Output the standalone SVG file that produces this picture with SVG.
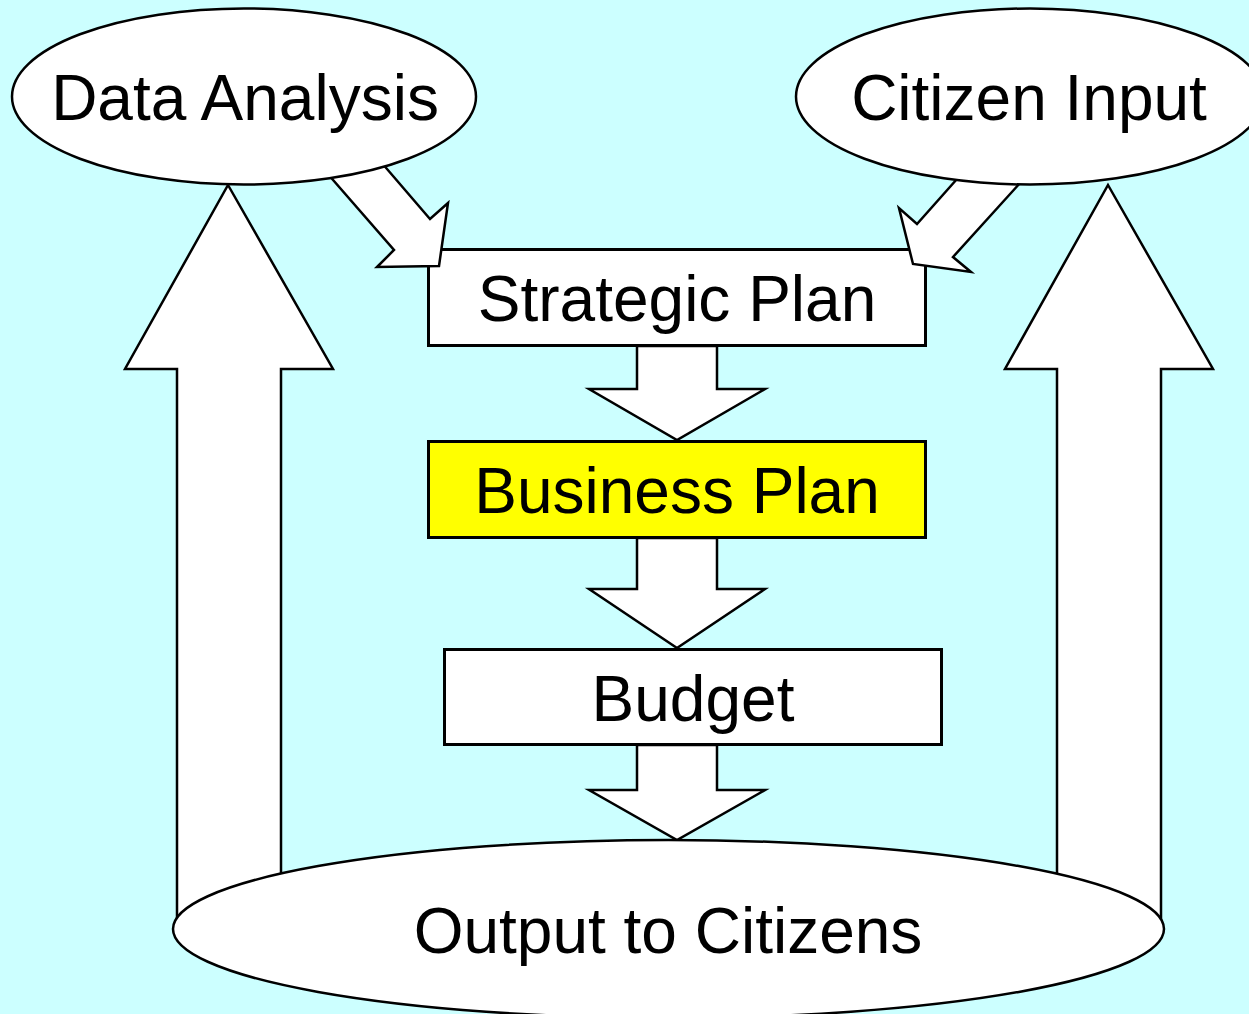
<svg xmlns="http://www.w3.org/2000/svg" width="1249" height="1014" viewBox="0 0 1249 1014">
<style>
.bg{fill:#CCFFFF}
.shape{fill:#FFFFFF;stroke:#000000;stroke-width:2.5;stroke-linejoin:miter}
.box{fill:#FFFFFF;stroke:#000000;stroke-width:3}
.yellow{fill:#FFFF00}
.arrow{fill:#FFFFFF;stroke:#000000;stroke-width:2.5;stroke-linejoin:miter}
.lbl{font-family:"Liberation Sans",Arial,sans-serif;font-size:64px;fill:#000000;text-anchor:middle}
</style>
<rect class="bg" x="0" y="0" width="1249" height="1014"/>
<g id="connectors-back">
<polygon id="arrow-output-to-data" class="arrow" points="228,185 333,369 281,369 281,929 177,929 177,369 125,369"/>
<polygon id="arrow-output-to-citizen" class="arrow" points="1108,185 1213,369 1161,369 1161,929 1057,929 1057,369 1005,369"/>
</g>
<g id="node-strategic">
<rect class="box" x="428.5" y="249.5" width="497" height="96"/>
<text class="lbl" x="677" y="321">Strategic Plan</text>
</g>
<g id="node-business">
<rect class="box yellow" x="428.5" y="441.5" width="497" height="96"/>
<text class="lbl" x="677" y="513">Business Plan</text>
</g>
<g id="node-budget">
<rect class="box" x="444.5" y="649.5" width="497" height="95"/>
<text class="lbl" x="693" y="721">Budget</text>
</g>
<g id="connectors">
<polygon id="arrow-strategic-business" class="arrow" points="637,346 717,346 717,389 765,389 677,440 589,389 637,389"/>
<polygon id="arrow-business-budget" class="arrow" points="637,538 717,538 717,589 765,589 677,648 589,589 637,589"/>
<polygon id="arrow-budget-output" class="arrow" points="637,745 717,745 717,790 765,790 677,840 589,790 637,790"/>
<polygon id="arrow-data-strategic" class="arrow" points="320,165 394,250 377,267 439,266 448,203 430,219 375,155"/>
<polygon id="arrow-citizen-strategic" class="arrow" points="965,170 917,224 899,208 913,264 971,272 953,257 1030,172"/>
</g>
<g id="node-data-analysis">
<ellipse class="shape" cx="244" cy="96.5" rx="232" ry="88"/>
<text class="lbl" x="245" y="120">Data Analysis</text>
</g>
<g id="node-citizen-input">
<ellipse class="shape" cx="1030" cy="96.5" rx="234" ry="88"/>
<text class="lbl" x="1029" y="120">Citizen Input</text>
</g>
<g id="node-output">
<ellipse class="shape" cx="668.5" cy="929" rx="495.5" ry="89"/>
<text class="lbl" x="668" y="953">Output to Citizens</text>
</g>
</svg>
